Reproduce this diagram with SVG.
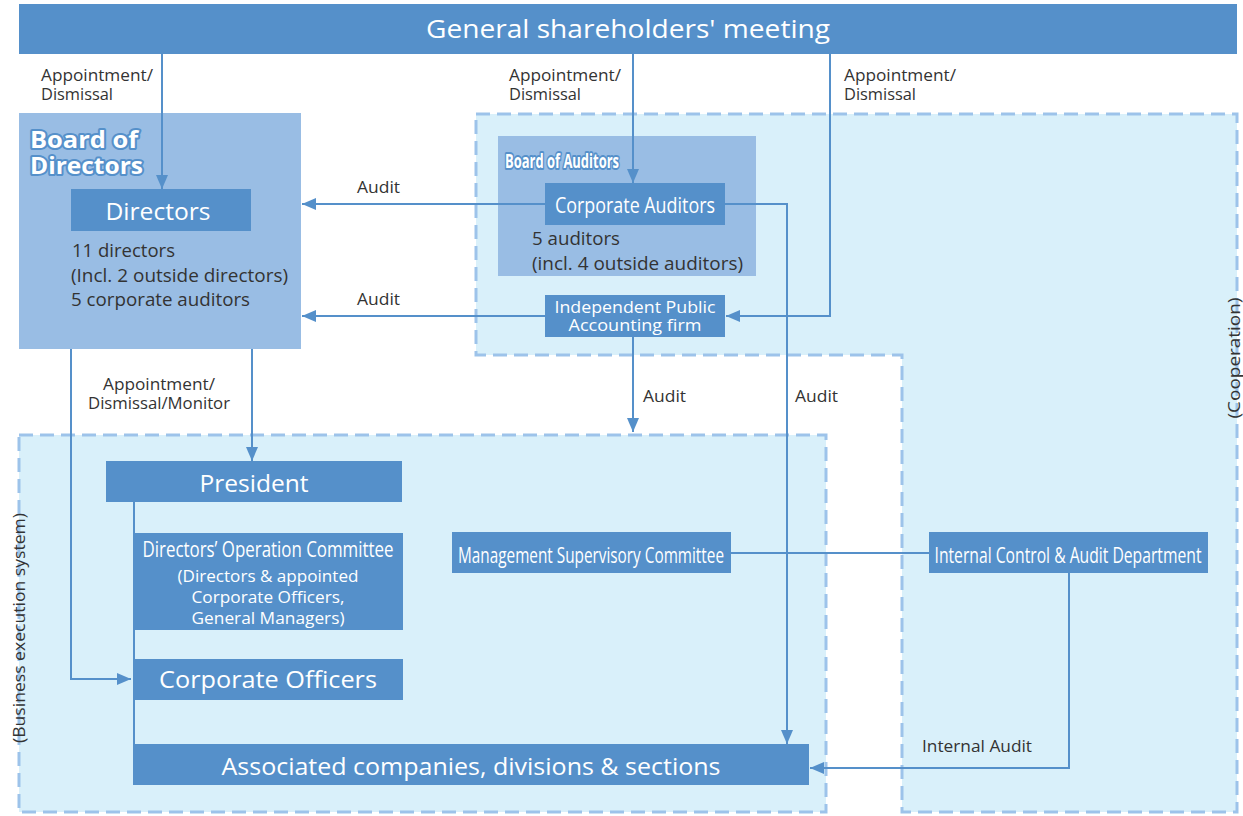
<svg xmlns="http://www.w3.org/2000/svg" width="1243" height="816" viewBox="0 0 1243 816">
  <style>
    .zone { fill: #d9f0fa; stroke: #9dc3ea; stroke-width: 3; stroke-dasharray: 14 7; }
    .panel { fill: #99bde4; }
    .box { fill: #5590ca; }
    .wt { fill: #ffffff; font-family: "Open Sans", "Noto Sans", sans-serif; }
    .dk { fill: #333333; font-family: "Open Sans", "Noto Sans", sans-serif; }
    .title { fill: #ffffff; stroke: #5590ca; stroke-width: 4; paint-order: stroke; stroke-linejoin: round; font-family: "Open Sans", "Noto Sans", sans-serif; font-weight: bold; }
    .link { fill: none; stroke: #5590ca; stroke-width: 2; }
    .arrow { fill: none; stroke: #5590ca; stroke-width: 2; marker-end: url(#head); }
  </style>
  <defs>
    <marker id="head" viewBox="0 0 14 12" markerWidth="14" markerHeight="12" refX="14" refY="6" orient="auto" markerUnits="userSpaceOnUse">
      <path d="M0,0 L14,6 L0,12 z" fill="#5590ca"/>
    </marker>
  </defs>

  <rect width="1243" height="816" fill="#ffffff"/>

  <!-- audit / cooperation area -->
  <g id="audit-area">
    <path class="zone" d="M476,114 H1237 V812 H902 V355 H476 Z"/>
    <text class="dk" font-size="17" transform="translate(1240,358) rotate(-90)" text-anchor="middle" textLength="121" lengthAdjust="spacingAndGlyphs">(Cooperation)</text>
  </g>

  <!-- business execution area -->
  <g id="business-area">
    <rect class="zone" x="19" y="435" width="807" height="377"/>
    <text class="dk" font-size="17" transform="translate(25,628) rotate(-90)" text-anchor="middle" textLength="230" lengthAdjust="spacingAndGlyphs">(Business execution system)</text>
  </g>

  <g id="shareholders">
    <rect class="box" x="19" y="4" width="1218" height="50"/>
    <text class="wt" font-size="26" x="628" y="38" text-anchor="middle" textLength="404" lengthAdjust="spacingAndGlyphs">General shareholders' meeting</text>
  </g>

  <g id="board-of-directors">
    <rect class="panel" x="19" y="113" width="282" height="236"/>
    <text class="title" font-size="24" x="30" y="148" textLength="108" lengthAdjust="spacingAndGlyphs">Board of</text>
    <text class="title" font-size="24" x="30" y="174" textLength="113" lengthAdjust="spacingAndGlyphs">Directors</text>
  </g>

  <g id="directors">
    <rect class="box" x="71" y="189" width="180" height="42"/>
    <text class="wt" font-size="23" x="158" y="220" text-anchor="middle" textLength="105" lengthAdjust="spacingAndGlyphs">Directors</text>
    <text class="dk" font-size="18" x="72" y="257" textLength="103" lengthAdjust="spacingAndGlyphs">11 directors</text>
    <text class="dk" font-size="18" x="71" y="282" textLength="217" lengthAdjust="spacingAndGlyphs">(Incl. 2 outside directors)</text>
    <text class="dk" font-size="18" x="71" y="306" textLength="179" lengthAdjust="spacingAndGlyphs">5 corporate auditors</text>
  </g>

  <g id="board-of-auditors">
    <rect class="panel" x="498" y="136" width="258" height="140"/>
    <text class="title" font-size="20" x="505" y="168" textLength="114" lengthAdjust="spacingAndGlyphs">Board of Auditors</text>
  </g>

  <g id="corporate-auditors">
    <rect class="box" x="545" y="183" width="180" height="42"/>
    <text class="wt" font-size="22" x="635" y="213" text-anchor="middle" textLength="160" lengthAdjust="spacingAndGlyphs">Corporate Auditors</text>
    <text class="dk" font-size="18" x="532" y="245" textLength="88" lengthAdjust="spacingAndGlyphs">5 auditors</text>
    <text class="dk" font-size="18" x="532" y="270" textLength="211" lengthAdjust="spacingAndGlyphs">(incl. 4 outside auditors)</text>
  </g>

  <g id="accounting-firm">
    <rect class="box" x="545" y="295" width="180" height="42"/>
    <text class="wt" font-size="17" x="635" y="313" text-anchor="middle" textLength="161" lengthAdjust="spacingAndGlyphs">Independent Public</text>
    <text class="wt" font-size="17" x="635" y="331" text-anchor="middle" textLength="133" lengthAdjust="spacingAndGlyphs">Accounting firm</text>
  </g>

  <g id="president">
    <rect class="box" x="106" y="461" width="296" height="41"/>
    <text class="wt" font-size="24" x="254" y="492" text-anchor="middle" textLength="109" lengthAdjust="spacingAndGlyphs">President</text>
  </g>

  <g id="operation-committee">
    <rect class="box" x="134" y="533" width="269" height="97"/>
    <text class="wt" font-size="22" x="268" y="557" text-anchor="middle" textLength="251" lengthAdjust="spacingAndGlyphs">Directors’ Operation Committee</text>
    <text class="wt" font-size="17" x="268" y="582" text-anchor="middle" textLength="181" lengthAdjust="spacingAndGlyphs">(Directors &amp; appointed</text>
    <text class="wt" font-size="17" x="268" y="603" text-anchor="middle" textLength="153" lengthAdjust="spacingAndGlyphs">Corporate Officers,</text>
    <text class="wt" font-size="17" x="268" y="624" text-anchor="middle" textLength="153" lengthAdjust="spacingAndGlyphs">General Managers)</text>
  </g>

  <g id="corporate-officers">
    <rect class="box" x="134" y="659" width="269" height="41"/>
    <text class="wt" font-size="24" x="268" y="688" text-anchor="middle" textLength="218" lengthAdjust="spacingAndGlyphs">Corporate Officers</text>
  </g>

  <g id="associated">
    <rect class="box" x="133" y="744" width="676" height="41"/>
    <text class="wt" font-size="24" x="471" y="775" text-anchor="middle" textLength="499" lengthAdjust="spacingAndGlyphs">Associated companies, divisions &amp; sections</text>
  </g>

  <g id="management-supervisory">
    <rect class="box" x="452" y="532" width="279" height="41"/>
    <text class="wt" font-size="21" x="591" y="563" text-anchor="middle" textLength="266" lengthAdjust="spacingAndGlyphs">Management Supervisory Committee</text>
  </g>

  <g id="internal-control">
    <rect class="box" x="929" y="532" width="279" height="41"/>
    <text class="wt" font-size="21" x="1068" y="563" text-anchor="middle" textLength="267" lengthAdjust="spacingAndGlyphs">Internal Control &amp; Audit Department</text>
  </g>

  <!-- connectors and their labels -->
  <g id="connectors">
    <path class="arrow" d="M162,54 V189"/>
    <path class="arrow" d="M633,54 V183"/>
    <path class="arrow" d="M830,54 V316 H726"/>
    <path class="arrow" d="M545,204 H302"/>
    <path class="arrow" d="M545,316 H302"/>
    <path class="arrow" d="M725,204 H787 V744"/>
    <path class="arrow" d="M633,337 V432"/>
    <path class="arrow" d="M71,349 V679 H131"/>
    <path class="arrow" d="M252,349 V461"/>
    <path class="link" d="M134,502 V744"/>
    <path class="link" d="M731,553 H929"/>
    <path class="arrow" d="M1069,573 V768 H810"/>

    <text class="dk" font-size="16" x="41" y="81" textLength="112" lengthAdjust="spacingAndGlyphs">Appointment/</text>
    <text class="dk" font-size="16" x="41" y="100" textLength="72" lengthAdjust="spacingAndGlyphs">Dismissal</text>
    <text class="dk" font-size="16" x="509" y="81" textLength="112" lengthAdjust="spacingAndGlyphs">Appointment/</text>
    <text class="dk" font-size="16" x="509" y="100" textLength="72" lengthAdjust="spacingAndGlyphs">Dismissal</text>
    <text class="dk" font-size="16" x="844" y="81" textLength="112" lengthAdjust="spacingAndGlyphs">Appointment/</text>
    <text class="dk" font-size="16" x="844" y="100" textLength="72" lengthAdjust="spacingAndGlyphs">Dismissal</text>
    <text class="dk" font-size="16" x="357" y="193" textLength="43" lengthAdjust="spacingAndGlyphs">Audit</text>
    <text class="dk" font-size="16" x="357" y="305" textLength="43" lengthAdjust="spacingAndGlyphs">Audit</text>
    <text class="dk" font-size="16" x="643" y="402" textLength="43" lengthAdjust="spacingAndGlyphs">Audit</text>
    <text class="dk" font-size="16" x="795" y="402" textLength="43" lengthAdjust="spacingAndGlyphs">Audit</text>
    <text class="dk" font-size="16" x="159" y="390" text-anchor="middle" textLength="112" lengthAdjust="spacingAndGlyphs">Appointment/</text>
    <text class="dk" font-size="16" x="159" y="409" text-anchor="middle" textLength="142" lengthAdjust="spacingAndGlyphs">Dismissal/Monitor</text>
    <text class="dk" font-size="16" x="922" y="752" textLength="110" lengthAdjust="spacingAndGlyphs">Internal Audit</text>
  </g>
</svg>
